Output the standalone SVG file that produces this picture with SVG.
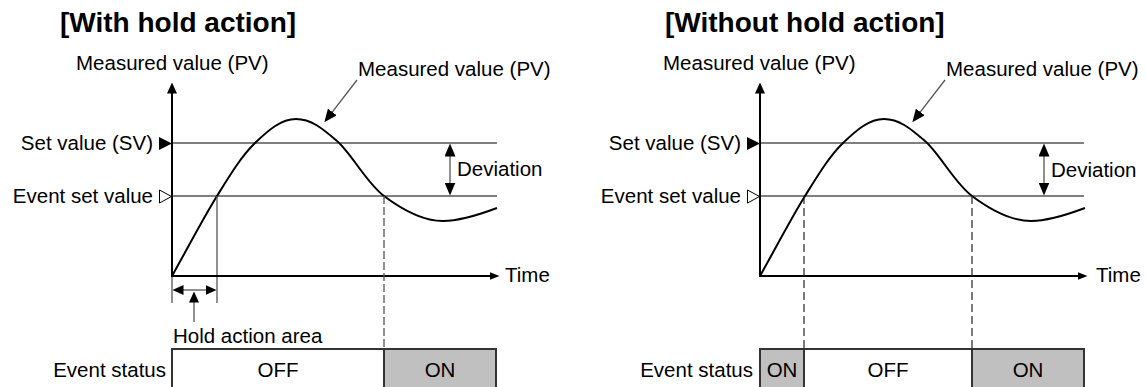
<svg xmlns="http://www.w3.org/2000/svg" width="1146" height="387" viewBox="0 0 1146 387">
<style>
text{font-family:"Liberation Sans",Arial,sans-serif;font-size:20.5px;fill:#000}
.title{font-size:28px;font-weight:bold}
.end{text-anchor:end}
.mid{text-anchor:middle}
.axis{stroke:#000;stroke-width:2;fill:none}
.ref{stroke:#555;stroke-width:1.3;fill:none}
.curve{stroke:#000;stroke-width:2;fill:none}
.dash{stroke:#555;stroke-width:1.3;stroke-dasharray:8 3;fill:none}
.dashk{stroke:#222;stroke-width:1.2;stroke-dasharray:8 4;fill:none}
.thin{stroke:#555;stroke-width:1.3;fill:none}
.off{fill:#fff;stroke:#333;stroke-width:2}
.on{fill:#c0c0c0;stroke:#333;stroke-width:2}
</style>
<defs>
<marker id="ah" viewBox="0 0 11 10" refX="0.5" refY="5" markerWidth="11" markerHeight="10" markerUnits="userSpaceOnUse" orient="auto-start-reverse">
<path d="M0,0 L11,5 L0,10 z" fill="#000"/>
</marker>
<marker id="ahs" viewBox="0 0 10 8" refX="0.5" refY="4" markerWidth="10" markerHeight="8" markerUnits="userSpaceOnUse" orient="auto-start-reverse">
<path d="M0,0 L10,4 L0,8 z" fill="#000"/>
</marker>
<marker id="ahl" viewBox="0 0 13 11" refX="0.5" refY="5.5" markerWidth="13" markerHeight="11" markerUnits="userSpaceOnUse" orient="auto-start-reverse">
<path d="M0,0 L13,5.5 L0,11 z" fill="#000"/>
</marker>
<path id="pv" d="M172,276 C187,249.3 203.2,218.2 217,196 C230.8,173.8 241.8,155.7 255,143 C268.2,130.3 281,119 296,119 C311,119 322.3,128.3 337,141 C351.7,153.7 366.3,182.7 384,196 C401.7,209.3 424,221 443,221 C462,221 485,212.5 497,208"/>
</defs>

<g id="panel-with-hold">
<text class="title" x="60" y="32">[With hold action]</text>
<g id="chart-left">
<line class="ref" x1="172" y1="143" x2="497" y2="143"/>
<line class="ref" x1="172" y1="196" x2="497" y2="196"/>
<use href="#pv" class="curve"/>
<text x="76" y="70">Measured value (PV)</text>
<text x="358" y="76">Measured value (PV)</text>
<text class="end" x="153" y="150">Set value (SV)</text>
<polygon points="159,137 172,143.5 159,150" fill="#000"/>
<text class="end" x="153" y="203">Event set value</text>
<polygon points="159.5,190 171.5,196.5 159.5,203" fill="#fff" stroke="#000" stroke-width="1"/>
<text x="457" y="176">Deviation</text>
<text x="505" y="282">Time</text>
</g>
<g id="hold-area">
<line class="thin" x1="217" y1="196" x2="217" y2="303"/>
<line class="thin" x1="172" y1="276" x2="172" y2="303"/>
<text x="173" y="343">Hold action area</text>
</g>
<g id="status-left">
<text class="end" x="166" y="377">Event status</text>
<rect class="off" x="172" y="349" width="212" height="45"/>
<rect class="on" x="384" y="349" width="112" height="45"/>
<text class="mid" x="278" y="377">OFF</text>
<text class="mid" x="440" y="377">ON</text>
</g>
</g>

<g id="panel-without-hold">
<text class="title" x="665" y="32">[Without hold action]</text>
<g id="chart-right">
<line class="ref" x1="760" y1="143" x2="1084" y2="143"/>
<line class="ref" x1="760" y1="196" x2="1084" y2="196"/>
<use href="#pv" class="curve" transform="translate(588,0)"/>
<text x="663" y="70">Measured value (PV)</text>
<text x="946" y="76">Measured value (PV)</text>
<text class="end" x="741" y="150">Set value (SV)</text>
<polygon points="747,137 760,143.5 747,150" fill="#000"/>
<text class="end" x="741" y="203">Event set value</text>
<polygon points="747.5,190 759.5,196.5 747.5,203" fill="#fff" stroke="#000" stroke-width="1"/>
<text x="1051" y="177">Deviation</text>
<text x="1096" y="282">Time</text>
</g>
<g id="status-right">
<text class="end" x="753" y="377">Event status</text>
<rect class="on" x="760" y="349" width="44" height="45"/>
<rect class="off" x="804" y="349" width="168" height="45"/>
<rect class="on" x="972" y="349" width="112" height="45"/>
<text class="mid" x="782" y="377">ON</text>
<text class="mid" x="888" y="377">OFF</text>
<text class="mid" x="1028" y="377">ON</text>
</g>
</g>

<g id="connectors">
<line class="axis" x1="172" y1="277" x2="172" y2="93" marker-end="url(#ah)"/>
<line class="axis" x1="171" y1="276" x2="490" y2="276" marker-end="url(#ahs)"/>
<line class="thin" x1="450" y1="156" x2="450" y2="183" marker-start="url(#ahl)" marker-end="url(#ahl)"/>
<line class="thin" x1="357" y1="80" x2="332" y2="112.3" marker-end="url(#ahl)"/>
<line class="thin" x1="183" y1="290" x2="206" y2="290" marker-start="url(#ah)" marker-end="url(#ah)"/>
<line class="thin" x1="194" y1="322" x2="194" y2="302" marker-end="url(#ah)"/>
<line class="dash" x1="384" y1="196" x2="384" y2="349"/>

<line class="axis" x1="760" y1="277" x2="760" y2="93" marker-end="url(#ah)"/>
<line class="axis" x1="759" y1="276" x2="1078" y2="276" marker-end="url(#ahs)"/>
<line class="thin" x1="1044" y1="156" x2="1044" y2="183" marker-start="url(#ahl)" marker-end="url(#ahl)"/>
<line class="thin" x1="945" y1="80" x2="920" y2="112.3" marker-end="url(#ahl)"/>
<line class="dashk" x1="804" y1="196" x2="804" y2="349"/>
<line class="dashk" x1="972" y1="196" x2="972" y2="349"/>
</g>
</svg>
